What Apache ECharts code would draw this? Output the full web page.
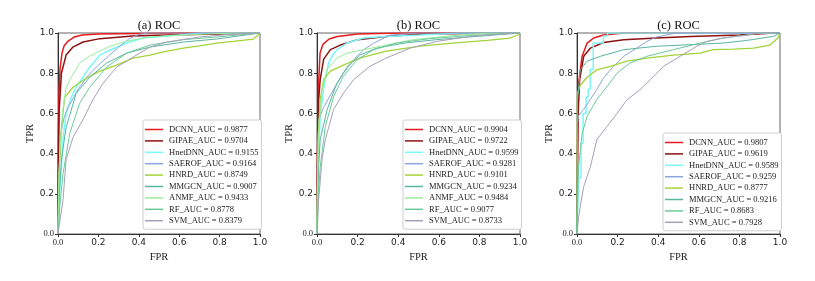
<!DOCTYPE html>
<html><head><meta charset="utf-8">
<script src="https://cdn.jsdelivr.net/npm/echarts@6/dist/echarts.min.js"></script>
<style>html,body{margin:0;padding:0;background:#fff}#c{width:815px;height:281px}</style>
</head><body><div id="c"></div>
<script>
// ---------- data ----------
const panelTitles = ['(a) ROC', '(b) ROC', '(c) ROC'];
const tickValues = [0, 0.2, 0.4, 0.6, 0.8, 1.0];
const methodNames = ['DCNN', 'GIPAE', 'HnetDNN', 'SAEROF', 'HNRD', 'MMGCN', 'ANMF', 'RF', 'SVM'];
const aucA = [0.9877, 0.9704, 0.9155, 0.9164, 0.8749, 0.9007, 0.9433, 0.8778, 0.8379];
const aucB = [0.9904, 0.9722, 0.9599, 0.9281, 0.9101, 0.9234, 0.9484, 0.9077, 0.8733];
const aucC = [0.9807, 0.9619, 0.9589, 0.9259, 0.8777, 0.9216, null, 0.8683, 0.7928];

// Panel (a) curves [FPR, TPR]
const dcnnA = [[0,0],[0.002,0.5],[0.005,0.7],[0.01,0.82],[0.02,0.9],[0.03,0.935],[0.05,0.96],[0.08,0.98],[0.12,0.99],[0.2,0.995],[0.4,0.998],[0.6,1],[1,1]];
const gipaeA = [[0,0],[0.003,0.45],[0.006,0.62],[0.017,0.8],[0.04,0.89],[0.074,0.93],[0.124,0.955],[0.207,0.972],[0.37,0.985],[0.54,0.99],[0.8,0.995],[1,1]];
const hnetA = [[0,0],[0.004,0.1],[0.008,0.2],[0.017,0.335],[0.025,0.47],[0.04,0.6],[0.066,0.68],[0.09,0.73],[0.124,0.78],[0.149,0.82],[0.174,0.85],[0.207,0.89],[0.256,0.914],[0.34,0.95],[0.42,0.975],[0.6,0.99],[0.7,1],[1,1]];
const saerofA = [[0,0],[0.005,0.3],[0.015,0.5],[0.03,0.58],[0.05,0.63],[0.1,0.72],[0.15,0.79],[0.2,0.84],[0.25,0.885],[0.3,0.93],[0.35,0.97],[0.4,0.993],[0.45,1],[1,1]];
const hnrdA = [[0,0],[0.005,0.3],[0.017,0.535],[0.033,0.68],[0.074,0.73],[0.14,0.775],[0.207,0.81],[0.29,0.84],[0.372,0.875],[0.455,0.89],[0.54,0.91],[0.62,0.925],[0.7,0.936],[0.785,0.95],[0.868,0.958],[0.967,0.97],[0.99,0.99],[1,1]];
const mmgcnA = [[0,0],[0.006,0.2],[0.017,0.37],[0.04,0.53],[0.09,0.7],[0.157,0.78],[0.24,0.85],[0.34,0.9],[0.455,0.93],[0.62,0.955],[0.785,0.97],[1,1]];
const anmfA = [[0,0],[0.003,0.2],[0.008,0.4],[0.025,0.62],[0.04,0.73],[0.066,0.78],[0.107,0.85],[0.157,0.885],[0.207,0.91],[0.256,0.934],[0.34,0.96],[0.455,0.98],[0.62,0.99],[0.87,1],[1,1]];
const rfA = [[0,0],[0.01,0.15],[0.025,0.3],[0.058,0.5],[0.107,0.65],[0.157,0.73],[0.24,0.83],[0.34,0.9],[0.455,0.94],[0.62,0.967],[0.785,0.98],[1,1]];
const svmA = [[0,0],[0.025,0.17],[0.04,0.37],[0.074,0.48],[0.124,0.57],[0.174,0.67],[0.223,0.75],[0.29,0.83],[0.372,0.88],[0.455,0.93],[0.54,0.955],[0.7,0.98],[0.87,0.995],[1,1]];

// Panel (b)
const dcnnB = [[0,0],[0.003,0.5],[0.008,0.75],[0.015,0.9],[0.03,0.945],[0.06,0.97],[0.1,0.983],[0.2,0.995],[0.4,1],[1,1]];
const gipaeB = [[0,0],[0.004,0.5],[0.008,0.67],[0.016,0.77],[0.033,0.87],[0.066,0.917],[0.115,0.94],[0.2,0.967],[0.34,0.983],[0.51,0.995],[1,1]];
const hnetB = [[0,0],[0.005,0.335],[0.016,0.585],[0.033,0.73],[0.057,0.85],[0.074,0.885],[0.098,0.917],[0.148,0.95],[0.23,0.975],[0.34,0.983],[0.51,0.99],[0.7,1],[1,1]];
const saerofB = [[0,0],[0.004,0.4],[0.008,0.57],[0.033,0.63],[0.082,0.72],[0.13,0.8],[0.18,0.867],[0.23,0.917],[0.28,0.95],[0.33,0.975],[0.36,0.99],[0.43,0.995],[0.5,1],[1,1]];
const hnrdB = [[0,0],[0.005,0.47],[0.016,0.67],[0.033,0.77],[0.066,0.81],[0.13,0.84],[0.21,0.875],[0.34,0.91],[0.51,0.935],[0.67,0.95],[0.84,0.963],[0.95,0.975],[0.99,0.99],[1,1]];
const mmgcnB = [[0,0],[0.006,0.3],[0.016,0.47],[0.05,0.62],[0.098,0.75],[0.148,0.83],[0.21,0.89],[0.295,0.925],[0.43,0.95],[0.59,0.967],[0.75,0.98],[1,1]];
const anmfB = [[0,0],[0.003,0.3],[0.008,0.5],[0.025,0.72],[0.05,0.82],[0.098,0.875],[0.148,0.9],[0.23,0.917],[0.34,0.94],[0.475,0.967],[0.67,0.987],[0.85,1],[1,1]];
const rfB = [[0,0],[0.006,0.18],[0.016,0.335],[0.041,0.535],[0.082,0.685],[0.13,0.785],[0.197,0.867],[0.28,0.917],[0.39,0.95],[0.557,0.972],[0.75,0.987],[1,1]];
const svmB = [[0,0],[0.008,0.17],[0.025,0.37],[0.041,0.47],[0.082,0.62],[0.13,0.7],[0.18,0.767],[0.26,0.834],[0.34,0.875],[0.46,0.925],[0.59,0.958],[0.75,0.983],[0.9,0.995],[1,1]];

// Panel (c)
const dcnnC = [[0,0],[0.003,0.47],[0.008,0.75],[0.025,0.884],[0.05,0.95],[0.082,0.975],[0.13,0.99],[0.23,1],[1,1]];
const gipaeC = [[0,0],[0.003,0.4],[0.005,0.585],[0.013,0.767],[0.033,0.884],[0.066,0.925],[0.13,0.953],[0.23,0.967],[0.39,0.975],[0.557,0.983],[0.8,0.99],[0.97,1],[1,1]];
const hnetC = [[0,0],[0.008,0],[0.008,0.28],[0.02,0.28],[0.02,0.45],[0.03,0.45],[0.03,0.6],[0.045,0.6],[0.045,0.68],[0.055,0.68],[0.055,0.72],[0.065,0.72],[0.065,0.82],[0.08,0.82],[0.08,0.95],[0.13,0.95],[0.13,0.985],[0.15,0.985],[0.15,1],[1,1]];
const saerofC = [[0,0],[0.003,0.55],[0.008,0.59],[0.033,0.62],[0.066,0.67],[0.098,0.72],[0.13,0.775],[0.18,0.834],[0.23,0.884],[0.295,0.925],[0.344,0.958],[0.39,0.98],[0.475,0.997],[0.5,1],[1,1]];
const hnrdC = [[0,0],[0.002,0.7],[0.016,0.74],[0.05,0.78],[0.098,0.817],[0.164,0.834],[0.246,0.86],[0.344,0.875],[0.475,0.89],[0.607,0.9],[0.67,0.917],[0.77,0.92],[0.87,0.925],[0.95,0.94],[0.99,0.975],[1,1]];
const mmgcnC = [[0,0],[0.003,0.67],[0.016,0.817],[0.05,0.86],[0.115,0.884],[0.23,0.917],[0.39,0.934],[0.557,0.942],[0.72,0.95],[0.836,0.963],[0.967,0.983],[1,1]];
const rfC = [[0,0],[0.004,0.2],[0.008,0.335],[0.025,0.5],[0.05,0.585],[0.098,0.67],[0.148,0.734],[0.197,0.8],[0.26,0.85],[0.344,0.884],[0.475,0.917],[0.607,0.95],[0.72,0.975],[0.836,0.99],[0.9,1],[1,1]];
const svmC = [[0,0],[0.008,0.086],[0.033,0.236],[0.066,0.335],[0.098,0.47],[0.148,0.535],[0.197,0.6],[0.246,0.668],[0.31,0.717],[0.36,0.767],[0.426,0.834],[0.508,0.884],[0.59,0.934],[0.64,0.958],[0.72,0.975],[0.836,0.99],[0.9,1],[1,1]];

const curvesA = [dcnnA, gipaeA, hnetA, saerofA, hnrdA, mmgcnA, anmfA, rfA, svmA];
const curvesB = [dcnnB, gipaeB, hnetB, saerofB, hnrdB, mmgcnB, anmfB, rfB, svmB];
const curvesC = [dcnnC, gipaeC, hnetC, saerofC, hnrdC, mmgcnC, null, rfC, svmC];

// ---------- styles ----------
const colors = ['#e8191c', '#8b1212', '#7af8f8', '#8ca5dc', '#a2d43a', '#5ab5a0', '#9aec9a', '#6cc99a', '#a69fb8'];
const widths = [1.5, 1.5, 1.5, 1, 1.3, 1, 1, 1, 1];

const grids = [
  {left: 58, top: 33, width: 202, height: 201},
  {left: 317, top: 33, width: 203, height: 201},
  {left: 577, top: 33, width: 203, height: 201}
];
const legendPos = [{left: 143, top: 120}, {left: 403, top: 120}, {left: 663, top: 133}];

const serif = 'Liberation Serif';
const sans = 'DejaVu Sans';

const option = {
  animation: false,
  backgroundColor: '#fff',
  title: [], grid: [], xAxis: [], yAxis: [], legend: [], series: []
};

const aucs = [aucA, aucB, aucC];
const curves = [curvesA, curvesB, curvesC];

for (let p = 0; p < 3; p++) {
  const g = grids[p];
  option.grid.push(Object.assign({show: true, borderColor: '#666', borderWidth: 1, containLabel: false}, g));
  option.title.push({
    text: panelTitles[p], left: g.left + g.width / 2 - 5, top: 14, textAlign: 'center',
    textStyle: {fontFamily: serif, fontSize: 12.5, fontWeight: 'normal', color: '#111'}
  });
  const axisCommon = {
    type: 'value', min: 0, max: 1, interval: 0.2, gridIndex: p,
    splitLine: {show: false},
    axisLine: {show: true, lineStyle: {color: '#333', width: 1}},
    axisTick: {show: true, inside: false, length: 3, lineStyle: {color: '#333'}},
    axisLabel: {
      fontFamily: sans, fontSize: 9, color: '#222', margin: 4,
      formatter: v => v === 0 ? '{s|0.0}' : v.toFixed(1),
      rich: {s: {fontFamily: serif, fontSize: 8.5, color: '#222'}}
    },
    nameLocation: 'middle',
    nameTextStyle: {fontFamily: serif, fontSize: 10.5, color: '#222'}
  };
  option.xAxis.push(Object.assign({}, axisCommon, {name: 'FPR', nameGap: 15}));
  option.yAxis.push(Object.assign({}, axisCommon, {name: 'TPR', nameGap: 22}));

  const names = [];
  for (let i = 0; i < methodNames.length; i++) {
    const data = curves[p][i];
    if (!data) continue;
    const name = methodNames[i] + '_AUC = ' + aucs[p][i].toFixed(4);
    names.push(name);
    option.series.push({
      type: 'line', name: name, xAxisIndex: p, yAxisIndex: p,
      data: data, showSymbol: false, symbol: 'none', smooth: false,
      lineStyle: {color: colors[i], width: widths[i]},
      itemStyle: {color: colors[i]},
      emphasis: {disabled: true}
    });
  }
  option.legend.push(Object.assign({
    orient: 'vertical', data: names, selectedMode: false, icon: 'rect',
    backgroundColor: '#fff', borderColor: '#cfcfcf', borderWidth: 1, borderRadius: 2,
    padding: [5, 3, 4, 2], itemWidth: 18, itemHeight: 1.5, itemGap: 2.4,
    textStyle: {fontFamily: serif, fontSize: 8.5, lineHeight: 9, color: '#222', padding: [0, 0, 0, 1]}
  }, legendPos[p]));
}

const chart = echarts.init(document.getElementById('c'), null, {renderer: 'canvas'});
chart.setOption(option);
</script>
</body></html>
